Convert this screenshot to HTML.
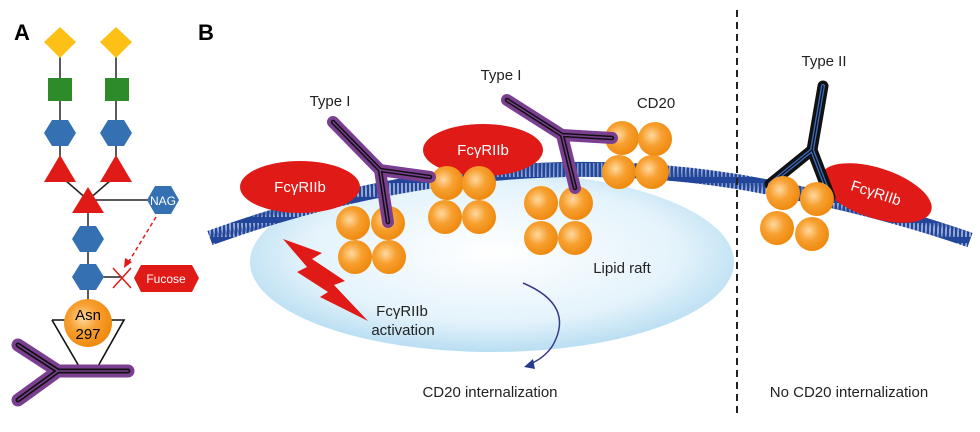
<!DOCTYPE html>
<html><head><meta charset="utf-8"><style>
html,body{margin:0;padding:0;background:#fff;}
svg{display:block;font-family:"Liberation Sans",sans-serif;}
</style></head><body>
<svg width="980" height="432" viewBox="0 0 980 432" xmlns="http://www.w3.org/2000/svg">
<defs>
<radialGradient id="ball" cx="0.4" cy="0.4" r="0.6">
<stop offset="0" stop-color="#ffd9a0"/><stop offset="0.5" stop-color="#f7a030"/><stop offset="1" stop-color="#ef8a10"/></radialGradient>
<radialGradient id="raft" cx="0.5" cy="0.45" r="0.55">
<stop offset="0" stop-color="#ffffff"/><stop offset="0.7" stop-color="#e4f3fb"/><stop offset="1" stop-color="#b9def2"/></radialGradient>
<pattern id="mem" width="4" height="20" patternUnits="userSpaceOnUse">
<rect width="4" height="20" fill="#22469a"/><line x1="2" y1="3" x2="2" y2="17" stroke="#dfe8f7" stroke-width="1.2"/></pattern>
<g id="o"><circle r="17" fill="url(#ball)"/></g>
</defs>
<text x="14" y="40" font-size="22" font-weight="bold">A</text>
<text x="198" y="40" font-size="22" font-weight="bold">B</text>

<!-- Panel A -->
<g stroke="#222" stroke-width="1.5">
<line x1="60" y1="42" x2="60" y2="165"/><line x1="116" y1="42" x2="116" y2="165"/>
<line x1="65" y1="180" x2="88" y2="200"/><line x1="111" y1="180" x2="88" y2="200"/>
<line x1="88" y1="200" x2="160" y2="200"/><line x1="88" y1="200" x2="88" y2="300"/>
<line x1="88" y1="277" x2="122" y2="277"/>
</g>
<polygon points="60,27 76,42 60,58 44,42" fill="#fcc016"/><polygon points="116,27 132,42 116,58 100,42" fill="#fcc016"/>
<rect x="48" y="78" width="24" height="23" fill="#2d8b2a"/><rect x="105" y="78" width="24" height="23" fill="#2d8b2a"/>
<g fill="#3570b2">
<polygon points="44,133 52,120 68,120 76,133 68,146 52,146"/>
<polygon points="100,133 108,120 124,120 132,133 124,146 108,146"/>
<polygon points="72,239 80,226 96,226 104,239 96,252 80,252"/>
<polygon points="72,277 80,264 96,264 104,277 96,290 80,290"/>
<polygon points="147,200 155,186 171,186 179,200 171,214 155,214"/>
</g>
<text x="163" y="205" font-size="12" fill="#fff" text-anchor="middle">NAG</text>
<g fill="#e01a16">
<polygon points="60,155 76,182 44,182"/><polygon points="116,155 132,182 100,182"/>
<polygon points="88,187 104,213 72,213"/>
<polygon points="141,265 192,265 199,278 192,292 141,292 134,278"/>
</g>
<text x="166" y="283" font-size="12" fill="#fff" text-anchor="middle">Fucose</text>
<line x1="156" y1="217" x2="128" y2="263" stroke="#e01a16" stroke-width="1.5" stroke-dasharray="4,3"/>
<polygon points="124,268 125,258 132,262" fill="#e01a16"/>
<g stroke="#e01a16" stroke-width="1.5"><line x1="113" y1="268" x2="131" y2="288"/><line x1="131" y1="268" x2="113" y2="288"/></g>
<polyline points="52,320 80,368 97,368 124,320 52,320" fill="none" stroke="#111" stroke-width="1.6"/>
<circle cx="88" cy="323" r="24" fill="url(#ball)"/>
<text x="88" y="320" font-size="15" text-anchor="middle">Asn</text>
<text x="88" y="339" font-size="15" text-anchor="middle">297</text>
<g fill="none" stroke-linecap="round" stroke-linejoin="round">
<path d="M18,345 L58,371 L128,371 M58,371 L18,400" stroke="#7b3f91" stroke-width="13"/>
<path d="M18,345 L58,371 L128,371 M58,371 L18,400" stroke="#111" stroke-width="5"/>
<path d="M18,345 L58,371 L128,371 M58,371 L18,400" stroke="#7b3f91" stroke-width="1.6"/>
</g>

<!-- Panel B -->
<ellipse cx="492" cy="262" rx="242" ry="90" fill="url(#raft)"/>
<path d="M210,238 Q480,140 740,182 Q870,205 970,240" fill="none" stroke="url(#mem)" stroke-width="15"/>
<path d="M210,238 Q480,140 740,182 Q870,205 970,240" fill="none" stroke="#22469a" stroke-width="15" stroke-dasharray="1.5,2.5" opacity="0.55"/>
<line x1="737" y1="10" x2="737" y2="416" stroke="#222" stroke-width="2" stroke-dasharray="7,5"/>

<ellipse cx="300" cy="187" rx="60" ry="26" fill="#e01a16"/>
<ellipse cx="483" cy="150" rx="60" ry="26" fill="#e01a16"/>
<ellipse cx="876" cy="193" rx="58" ry="25" fill="#e01a16" transform="rotate(18 876 193)"/>
<g fill="#fff" font-size="15" text-anchor="middle">
<text x="300" y="192">FcγRIIb</text><text x="483" y="155">FcγRIIb</text>
<text x="876" y="198" transform="rotate(18 876 193)">FcγRIIb</text></g>

<use href="#o" x="353" y="223"/><use href="#o" x="388" y="223"/><use href="#o" x="355" y="257"/><use href="#o" x="389" y="257"/>
<use href="#o" x="447" y="183"/><use href="#o" x="479" y="183"/><use href="#o" x="445" y="217"/><use href="#o" x="479" y="217"/>
<use href="#o" x="541" y="203"/><use href="#o" x="576" y="203"/><use href="#o" x="541" y="238"/><use href="#o" x="575" y="238"/>
<use href="#o" x="622" y="138"/><use href="#o" x="655" y="139"/><use href="#o" x="619" y="172"/><use href="#o" x="652" y="172"/>

<g fill="none" stroke-linecap="round" stroke-linejoin="round">
<g stroke="#7b3f91" stroke-width="12">
<path d="M333,122 L380,170 L430,177 M380,170 L388,222"/>
<path d="M507,100 L562,135 L612,138 M562,135 L575,188"/></g>
<g stroke="#111" stroke-width="4.5">
<path d="M333,122 L380,170 L430,177 M380,170 L388,222"/>
<path d="M507,100 L562,135 L612,138 M562,135 L575,188"/></g>
<g stroke="#7b3f91" stroke-width="1.4">
<path d="M333,122 L380,170 L430,177 M380,170 L388,222"/>
<path d="M507,100 L562,135 L612,138 M562,135 L575,188"/></g>
<path d="M823,86 L812,150 L770,184 M812,150 L830,197" stroke="#111" stroke-width="11"/>
<path d="M823,86 L812,150 L770,184 M812,150 L830,197" stroke="#3a6bc0" stroke-width="4"/>
<path d="M823,86 L812,150 L770,184 M812,150 L830,197" stroke="#111" stroke-width="1.4"/>
</g>
<use href="#o" x="783" y="193"/><use href="#o" x="817" y="199"/><use href="#o" x="777" y="228"/><use href="#o" x="812" y="234"/>

<polygon points="283,239 322,253 312,259 345,281 334,285 368,321 320,297 328,292 297,272 307,267" fill="#e01a16"/>
<path d="M523,283 Q575,305 553,345 Q545,358 528,365" fill="none" stroke="#3a3a8a" stroke-width="1.5"/>
<polygon points="524,367 533,359 535,369" fill="#2a3a8a"/>

<g font-size="15" fill="#222" text-anchor="middle">
<text x="330" y="106">Type I</text>
<text x="501" y="80">Type I</text>
<text x="656" y="108">CD20</text>
<text x="824" y="66">Type II</text>
<text x="622" y="273">Lipid raft</text>
<text x="402" y="316">FcγRIIb</text>
<text x="403" y="335">activation</text>
<text x="490" y="397">CD20 internalization</text>
<text x="849" y="397">No CD20 internalization</text>
</g>
</svg>
</body></html>
